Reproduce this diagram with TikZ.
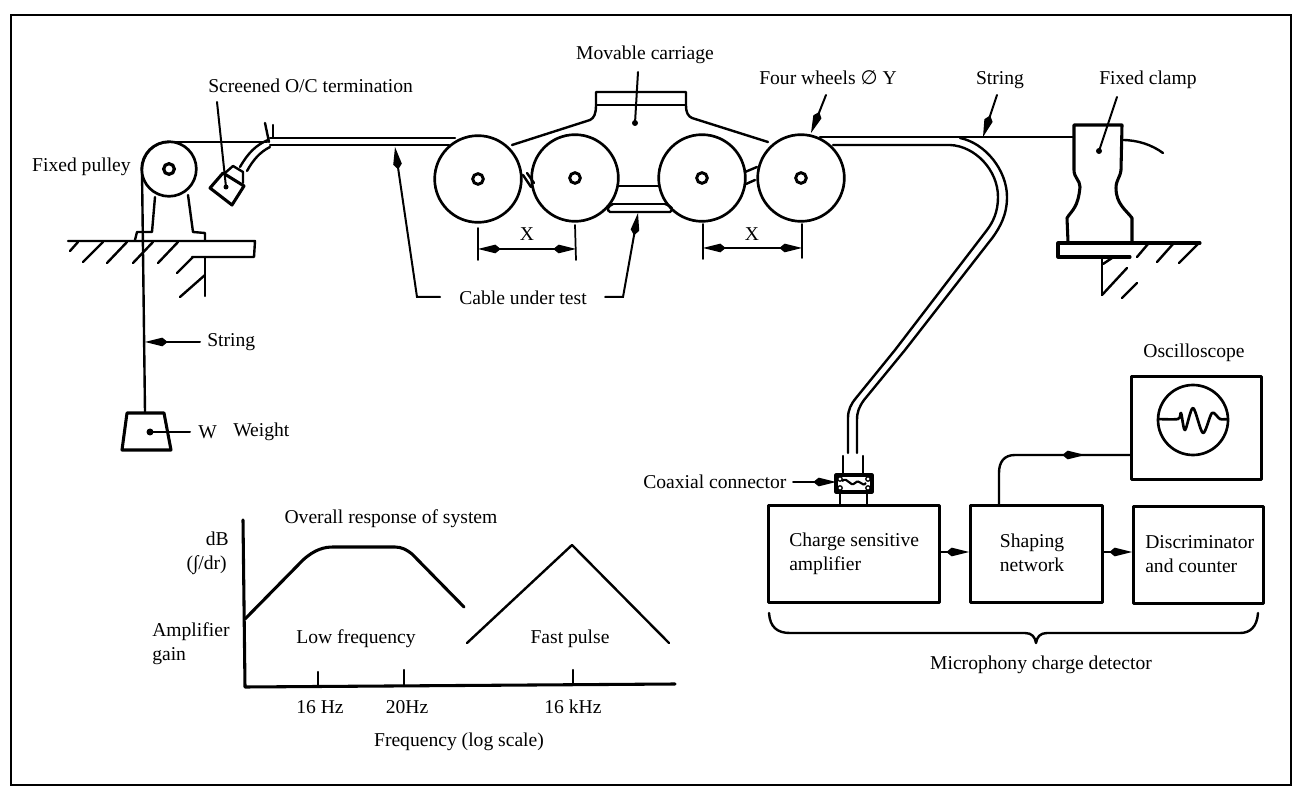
\documentclass[tikz,border=0pt]{standalone}
\usepackage{fontspec}
\setmainfont{Liberation Serif}
\newfontfamily\symfont{DejaVu Sans}
\usetikzlibrary{arrows.meta,calc}
\tikzset{
  ln/.style={line width=1.8pt,line join=round,line cap=round},
  thin line/.style={line width=1.3pt,line cap=round},
  heavy/.style={line width=2.3pt,line join=round,line cap=round},
  lead/.style={line width=1.5pt,line cap=round,-{Kite[length=17pt,width=6.5pt,inset=4pt]}},
  doth/.style={line width=1.5pt,line cap=round},
  lab/.style={inner sep=0pt,font=\fontsize{14.7}{18}\selectfont},
  wheel/.style={circle,draw,line width=2pt,minimum size=65pt,inner sep=0pt},
  hub/.style={circle,draw,line width=2.2pt,minimum size=8pt,inner sep=0pt},
  box/.style={rectangle,draw,heavy,inner sep=0pt,anchor=north west}
}
\begin{document}
\begin{tikzpicture}[x=0.75pt,y=-0.75pt]
\useasboundingbox (0,0) rectangle (1295,787);
\node[rectangle,draw,line width=1.3pt,minimum width=960pt,minimum height=577.5pt,inner sep=0pt,anchor=north west] (frame) at (10,14) {};

% wheels
\node[wheel] (w1) at (478,179) {};
\node[wheel] (w2) at (575,178) {};
\node[wheel] (w3) at (702,178) {};
\node[wheel] (w4) at (801,178) {};
\foreach \n in {1,2,3,4} \node[hub] (h\n) at (w\n) {};

% carriage
\draw[ln] (512,145) -- (590,120) .. controls (594,118) and (596,114) .. (596,105) -- (596,92) -- (686,92) -- (686,105) .. controls (686,113) and (688,116) .. (692,118) -- (768,142);
\draw[ln] (596,105) -- (686,105);
\draw[ln] (619,186) -- (658,186);
\draw[ln] (613,204) -- (665,204);
\draw[ln] (613,204) .. controls (608,206) and (606,210) .. (610,212) -- (670,212) .. controls (674,210) and (672,206) .. (665,204);
\draw[ln] (523,175) -- (531,187);
\draw[ln] (527,173) -- (534,183);
\draw[ln] (745,172) -- (757,167);
\draw[ln] (746,184) -- (755,180);

% X dimensions
\coordinate (dl1) at (478,228); \coordinate (dl1b) at (478,260);
\coordinate (dl2) at (575,225); \coordinate (dl2b) at (576,260);
\coordinate (dl3) at (703,224); \coordinate (dl3b) at (703,259);
\coordinate (dl4) at (802,224); \coordinate (dl4b) at (802,258);
\draw[thin line] (dl1) -- (dl1b);
\draw[thin line] (dl2) -- (dl2b);
\draw[thin line] (dl3) -- (dl3b);
\draw[thin line] (dl4) -- (dl4b);
\coordinate (xa) at (478,249); \coordinate (xb) at (576,249);
\coordinate (xc) at (703,248); \coordinate (xd) at (802,248);
\draw[lead] ($(xa)!0.5!(xb)$) -- (xa);
\draw[lead] ($(xa)!0.5!(xb)$) -- (xb);
\draw[lead] ($(xc)!0.5!(xd)$) -- (xc);
\draw[lead] ($(xc)!0.5!(xd)$) -- (xd);
\node[lab] (x1) at (527,234) {X};
\node[lab] (x2) at (752,234) {X};

% cable & string to the left
\draw[ln] (165,142) -- (267,142);
\draw[ln] (270,138) -- (455,138);
\draw[ln] (270,145) -- (449,145);
\draw[ln] (240,167) .. controls (248,153) and (256,145) .. (268,140);
\draw[ln] (247,171) .. controls (253,160) and (260,152) .. (270,147);
\draw[ln] (265,123) -- (269,142);
\draw[ln] (273,125) -- (273,137);
\draw[heavy] (210,188) -- (223,173) -- (244,186) -- (232,205) -- cycle;
\draw[ln] (225,173) -- (233,166) -- (243,172) -- (243,183);

% pulley
\node[circle,draw,line width=2pt,minimum size=41pt,inner sep=0pt] (pulley) at (169,169) {};
\node[circle,draw,line width=2.4pt,minimum size=8pt,inner sep=0pt] (phub) at (pulley) {};
\draw[ln] (169,142) .. controls (154,142) and (142,154) .. (142,170) -- (145,412);
\draw[ln] (155,197) -- (152,232) -- (137,232) -- (135,240);
\draw[ln] (188,195) -- (193,232) -- (205,233) -- (205,240);
\draw[ln] (68,241) -- (255,241) -- (254,257) -- (192,257);
\draw[ln] (205,257) -- (205,296);
\foreach \a/\b/\c/\d in {70/251/78/242,83/262/103/242,107/263/127/242,133/263/153/242,158/263/178/242,177/273/193/257,180/297/205/275}
  \draw[ln] (\a,\b) -- (\c,\d);

% weight
\node[lab,anchor=west] (lw) at (198,432) {W};
\node[lab,anchor=west] (lweight) at (233,432) {Weight};
\coordinate (wdot) at (150,432);
\draw[heavy] (127,413) -- (164,413) -- (171,450) -- (122,450) -- cycle;
\fill (wdot) circle (3.5);
\draw[doth] (wdot) -- (190,432);

% string leader lower
\node[lab,anchor=west] (lstr) at (207,342) {String};
\coordinate (strl) at (145,342);
\draw[lead] (200,342) -- (strl);

% right side string
\draw[ln] (820,137) -- (1074,137);
\draw[ln] (833,145) -- (950,145) .. controls (975,146) and (998,170) .. (998,197) .. controls (998,212) and (993,222) .. (987,230) -- (895,350) -- (856,398) .. controls (851,404) and (848,410) .. (848,418) -- (848,453);
\draw[ln] (960,138) .. controls (985,143) and (1007,170) .. (1007,197) .. controls (1007,215) and (1000,227) .. (993,237) -- (905,350) -- (864,400) .. controls (859,407) and (857,412) .. (857,420) -- (857,453);

% clamp
\draw[heavy] (1068,242) -- (1067,218) .. controls (1072,210) and (1078,208) .. (1080,187) .. controls (1080,180) and (1074,178) .. (1074,170) -- (1074,125) -- (1122,125) -- (1121,170) .. controls (1120,178) and (1116,180) .. (1116,188) .. controls (1116,204) and (1126,210) .. (1132,218) -- (1132,242);
\draw[heavy] (1200,243) -- (1058,243) -- (1058,257) -- (1130,257);
\draw[ln] (1102,257) -- (1102,295);
\foreach \a/\b/\c/\d in {1137/257/1148/244,1157/262/1173/244,1179/263/1199/243,1102/295/1127/268,1103/264/1112/258,1122/298/1137/283}
  \draw[ln] (\a,\b) -- (\c,\d);
\draw[ln] (1122,140) .. controls (1138,140) and (1152,145) .. (1163,153);

% cable under test, labels and leaders
\node[lab] (lcut) at (523,298) {Cable under test};
\coordinate (cutl) at (395,147);
\coordinate (cutr) at (638,213);
\draw[lead] (440,297) -- (417,297) -- (cutl);
\draw[lead] (605,297) -- (623,297) -- (cutr);

\node[lab] (lcar) at (645,55) {Movable carriage};
\coordinate (cardot) at (635,123);
\draw[doth] (638,72) -- (cardot);
\fill (cardot) circle (3);

\node[lab,anchor=west] (lfw) at (759,78) {Four wheels {\symfont ∅} Y};
\coordinate (fwtip) at (811,133);
\draw[lead] (826,95) -- (fwtip);

\node[lab] (lstr2) at (1000,80) {String};
\coordinate (strtip) at (983,137);
\draw[lead] (997,95) -- (strtip);

\node[lab] (lclamp) at (1148,80) {Fixed clamp};
\coordinate (cldot) at (1099,151);
\draw[doth] (1117,97) -- (cldot);
\fill (cldot) circle (3);

\node[lab,anchor=west] (lscr) at (208,86) {Screened O/C termination};
\coordinate (scdot) at (226,187);
\draw[doth] (217,102) -- (scdot);
\fill (scdot) circle (2.5);

\node[lab,anchor=east] (lfp) at (131,167) {Fixed pulley};

% detector boxes
\node[box,minimum width=128.25pt,minimum height=72.75pt] (csa) at (767,504) {};
\node[box,minimum width=99pt,minimum height=72.75pt] (shp) at (969,504) {};
\node[box,minimum width=97.5pt,minimum height=72.75pt] (dsc) at (1132,505) {};
\node[box,minimum width=97.5pt,minimum height=77.25pt] (osc) at (1130,375) {};
\node[lab,anchor=west,align=left] (tcsa) at (789,554) {Charge sensitive\\amplifier};
\node[lab,align=center] (tshp) at (1032,553) {Shaping\\network};
\node[lab,anchor=west,align=left] (tdsc) at (1145,554) {Discriminator\\and counter};
\node[lab] (tosc) at (1194,353) {Oscilloscope};
\node[circle,draw,line width=2pt,minimum size=52.5pt,inner sep=0pt] (scr) at (1193,420) {};
\draw[line width=2pt,line join=round] plot[smooth,tension=0.5] coordinates {(1158,419) (1178,419) (1181,413) (1185,430) (1193,408) (1203,433) (1212,413) (1220,419) (1228,419)};

\draw[lead] (csa.east |- 0,552) -- (shp.west |- 0,552);
\draw[lead] (shp.east |- 0,552) -- (dsc.west |- 0,552);
\draw[ln] (999,504) -- (999,473) .. controls (999,462) and (1004,455) .. (1015,455) -- (osc.west |- 0,455);
\draw[lead] (1054,455) -- (1085,455);

% connector
\coordinate (cnl) at (836,482);
\draw[heavy,fill=white] (836,475) rectangle (872,492);
\draw[ln] (843,456) -- (843,475);
\draw[ln] (863,456) -- (863,475);
\draw[ln] (840,492) -- (840,504);
\draw[ln] (867,492) -- (867,504);
\draw[line width=1.6pt] (842,481) .. controls (848,476) and (850,488) .. (855,483) .. controls (860,478) and (862,488) .. (866,483);
\foreach \cx/\cy in {840/479,840/488,868/479,868/488} \draw[line width=1pt] (\cx,\cy) circle (2.2);
\node[lab,anchor=west] (lcoax) at (643,482) {Coaxial connector};
\draw[lead] (793,482) -- (cnl);

% brace
\draw[ln] (769,613) .. controls (770,627) and (777,633) .. (790,633) -- (1025,633) .. controls (1032,633) and (1035,637) .. (1036,643) .. controls (1037,637) and (1040,633) .. (1047,633) -- (1240,633) .. controls (1250,633) and (1257,627) .. (1258,613);
\node[lab] (lmic) at (1041,665) {Microphony charge detector};

% graph
\draw[heavy] (243,520) -- (245,687) -- (675,684);
\draw[ln] (318,672) -- (318,686);
\draw[ln] (404,670) -- (404,686);
\draw[ln] (573,670) -- (573,684);
\draw[heavy] (245,619) -- (303,560) .. controls (315,549) and (325,547) .. (333,547) -- (395,547) .. controls (402,547) and (407,550) .. (412,554) -- (464,607);
\draw[ln] (467,643) -- (572,545) -- (669,643);
\node[lab] (lov) at (391,519) {Overall response of system};
\node[lab,anchor=east] (ldb) at (229,539) {dB};
\node[lab,anchor=east] (lint) at (227,565) {(∫/dr)};
\node[lab,anchor=west,align=left] (lamp) at (152,644) {Amplifier\\gain};
\node[lab] (llow) at (356,639) {Low frequency};
\node[lab] (lfast) at (570,639) {Fast pulse};
\node[lab] (t16) at (320,707) {16 Hz};
\node[lab] (t20) at (407,707) {20Hz};
\node[lab] (t16k) at (573,707) {16 kHz};
\node[lab] (lfreq) at (459,742) {Frequency (log scale)};
\end{tikzpicture}
\end{document}
